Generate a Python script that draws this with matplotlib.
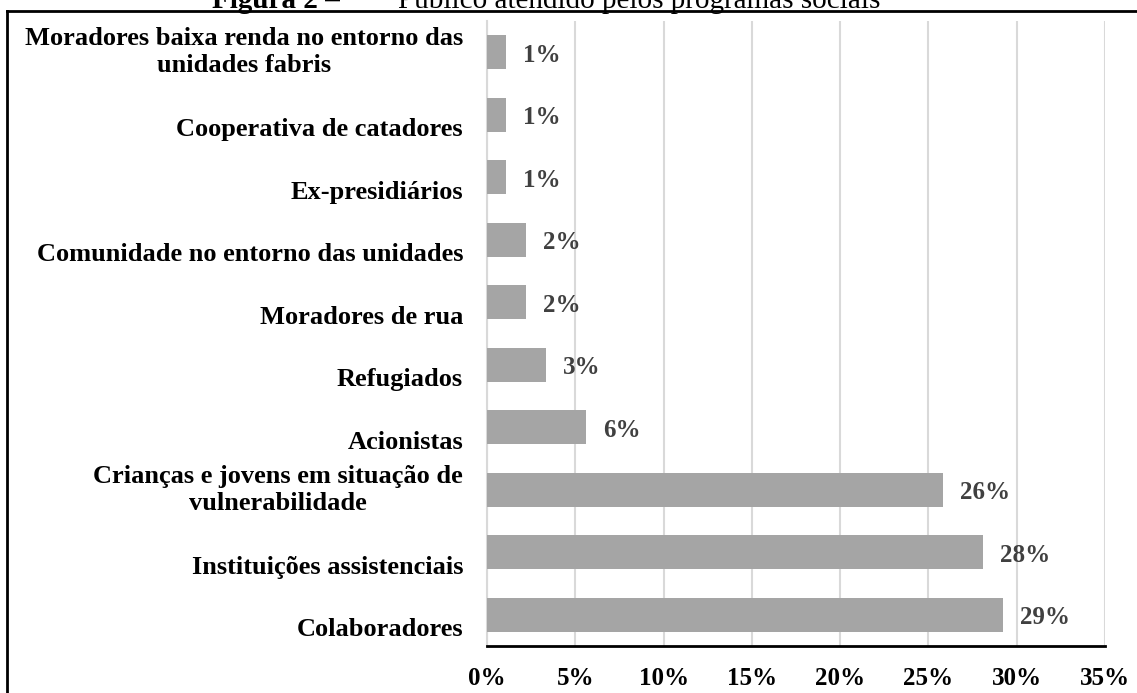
import numpy as np
import matplotlib
matplotlib.use("Agg")
import matplotlib.pyplot as plt
import matplotlib.transforms as mtransforms
from matplotlib.lines import Line2D

# categories from top to bottom
categorias = [
	"Moradores baixa renda no entorno das\nunidades fabris",
	"Cooperativa de catadores",
	"Ex-presidiários",
	"Comunidade no entorno das unidades",
	"Moradores de rua",
	"Refugiados",
	"Acionistas",
	"Crianças e jovens em situação de\nvulnerabilidade",
	"Instituições assistenciais",
	"Colaboradores",
]
percentuais = [1.08, 1.08, 1.08, 2.23, 2.23, 3.36, 5.62, 25.84, 28.09, 29.22]
xticks = [0, 5, 10, 15, 20, 25, 30, 35]

plt.rcParams['font.family'] = ['Liberation Serif', 'DejaVu Serif']

W, H = 1137, 693
fig = plt.figure(figsize=(W/100, H/100), dpi=100)
ax = fig.add_axes([487/W, 1-646/H, 618/W, 625/H])

y = np.arange(len(categorias))
bars = ax.barh(y, percentuais, height=0.544, color='#a5a5a5', zorder=3)
ax.set_ylim(len(categorias)-0.5, -0.5)
ax.set_xlim(0, 35)

# value labels right of each bar
for yi, v in zip(y, percentuais):
	ax.annotate("%d%%" % round(v), (v, yi), xytext=(12, -2), textcoords='offset points',
		ha='left', va='center', fontsize=18, fontweight='bold', color='#404040')

ax.set_xticks(xticks)
ax.set_xticklabels(["%d%%" % t for t in xticks], fontsize=18, fontweight='bold')
ax.tick_params(axis='x', length=0, pad=15)
ax.set_yticks([])
ax.grid(axis='x', color='#d9d9d9', linewidth=1.5, zorder=0)

for s in ['top', 'right']:
	ax.spines[s].set_visible(False)
ax.spines['left'].set_color('#d9d9d9')
ax.spines['left'].set_linewidth(1.5)
ax.spines['bottom'].set_color('black')
ax.spines['bottom'].set_linewidth(2)

# category labels; single line ones sit a bit lower, like in the source
trans = mtransforms.blended_transform_factory(ax.transAxes, ax.transData)
for i, cat in enumerate(categorias):
	t = trans
	if "\n" not in cat:
		t = trans + mtransforms.ScaledTranslation(0, -0.15, fig.dpi_scale_trans)
	ax.text(-0.0388, i, cat, transform=t, ha='right', va='center',
		multialignment='center', fontsize=19, fontweight='bold', linespacing=1.2)

# frame around the figure (only left and top visible)
fig.add_artist(Line2D([7/W, 7/W], [0, 1-11/H], color='black', linewidth=2))
fig.add_artist(Line2D([7/W, 1], [1-11/H, 1-11/H], color='black', linewidth=2))

# title, cut off at the top
fig.text(340/W, 1-7.5/H, "Figura 2 –", ha='right', va='baseline', fontsize=21, fontweight='bold')
fig.text(398/W, 1-7.5/H, "Público atendido pelos programas sociais", ha='left',
	va='baseline', fontsize=21)

fig.savefig("out.png", dpi=100)
